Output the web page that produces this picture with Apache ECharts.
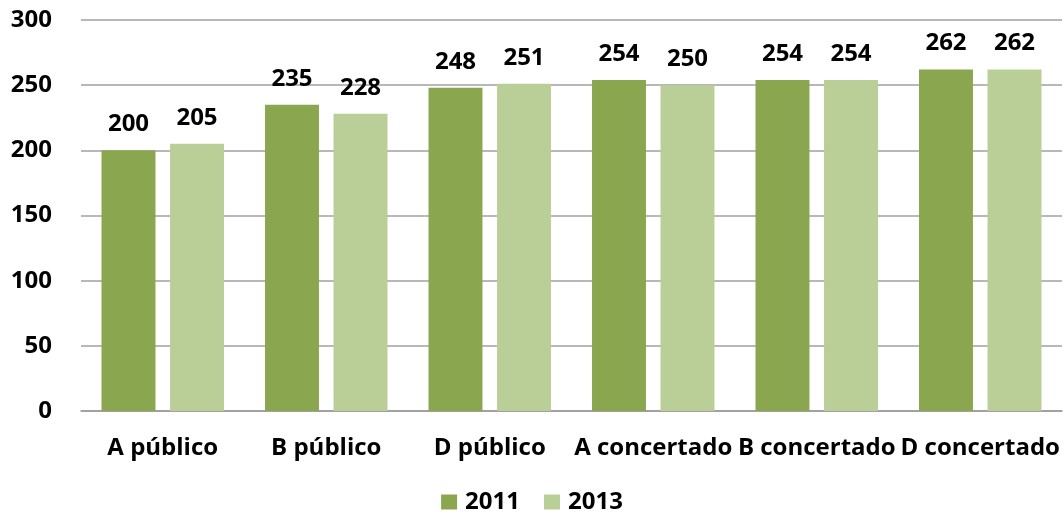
<!DOCTYPE html>
<html>
<head>
<meta charset="utf-8">
<script src="https://cdn.jsdelivr.net/npm/echarts@6/dist/echarts.min.js"></script>
<style>
html,body{margin:0;padding:0;background:#fff;}
#chart{width:1064px;height:522px;}
</style>
</head>
<body>
<div id="chart"></div>
<script>
// Categories and values per year
const categories = ['A público', 'B público', 'D público', 'A concertado', 'B concertado', 'D concertado'];
const seriesNames = ['2011', '2013'];
const values2011 = [200, 235, 248, 254, 254, 262];
const values2013 = [205, 228, 251, 250, 254, 262];
const colors = ['#8AA750', '#B9CF97'];

const FONT = '"Open Sans", sans-serif';

const chart = echarts.init(document.getElementById('chart'), null, { renderer: 'canvas' });

const labelStyle = {
  show: true,
  position: 'top',
  distance: 14,
  color: '#000',
  fontFamily: FONT,
  fontWeight: 'bold',
  fontSize: 24
};

chart.setOption({
  animation: false,
  textStyle: { fontFamily: FONT },
  grid: { left: 81, right: 2, top: 20, bottom: 111, containLabel: false },
  legend: {
    bottom: 3,
    left: 'center',
    itemWidth: 16,
    itemHeight: 15,
    itemGap: 24,
    icon: 'rect',
    textStyle: { color: '#000', fontFamily: FONT, fontWeight: 'bold', fontSize: 24, padding: [0, 0, 0, 3] },
    data: seriesNames
  },
  xAxis: {
    type: 'category',
    data: categories,
    axisLine: { show: true, lineStyle: { color: '#999', width: 1.5 } },
    axisTick: { show: false },
    axisLabel: {
      color: '#000', fontFamily: FONT, fontWeight: 'bold', fontSize: 24,
      margin: 25, interval: 0
    }
  },
  yAxis: {
    type: 'value',
    min: 0, max: 300, interval: 50,
    axisLine: { show: false },
    axisTick: { show: false },
    splitLine: { lineStyle: { color: '#a0a0a0', width: 1.5 } },
    axisLabel: {
      color: '#000', fontFamily: FONT, fontWeight: 'bold', fontSize: 24,
      margin: 29
    }
  },
  series: [
    {
      name: seriesNames[0], type: 'bar', data: values2011,
      barWidth: '33%', barGap: '27%',
      itemStyle: { color: colors[0] },
      label: labelStyle
    },
    {
      name: seriesNames[1], type: 'bar', data: values2013,
      barWidth: '33%',
      itemStyle: { color: colors[1] },
      label: labelStyle
    }
  ]
});
</script>
</body>
</html>
